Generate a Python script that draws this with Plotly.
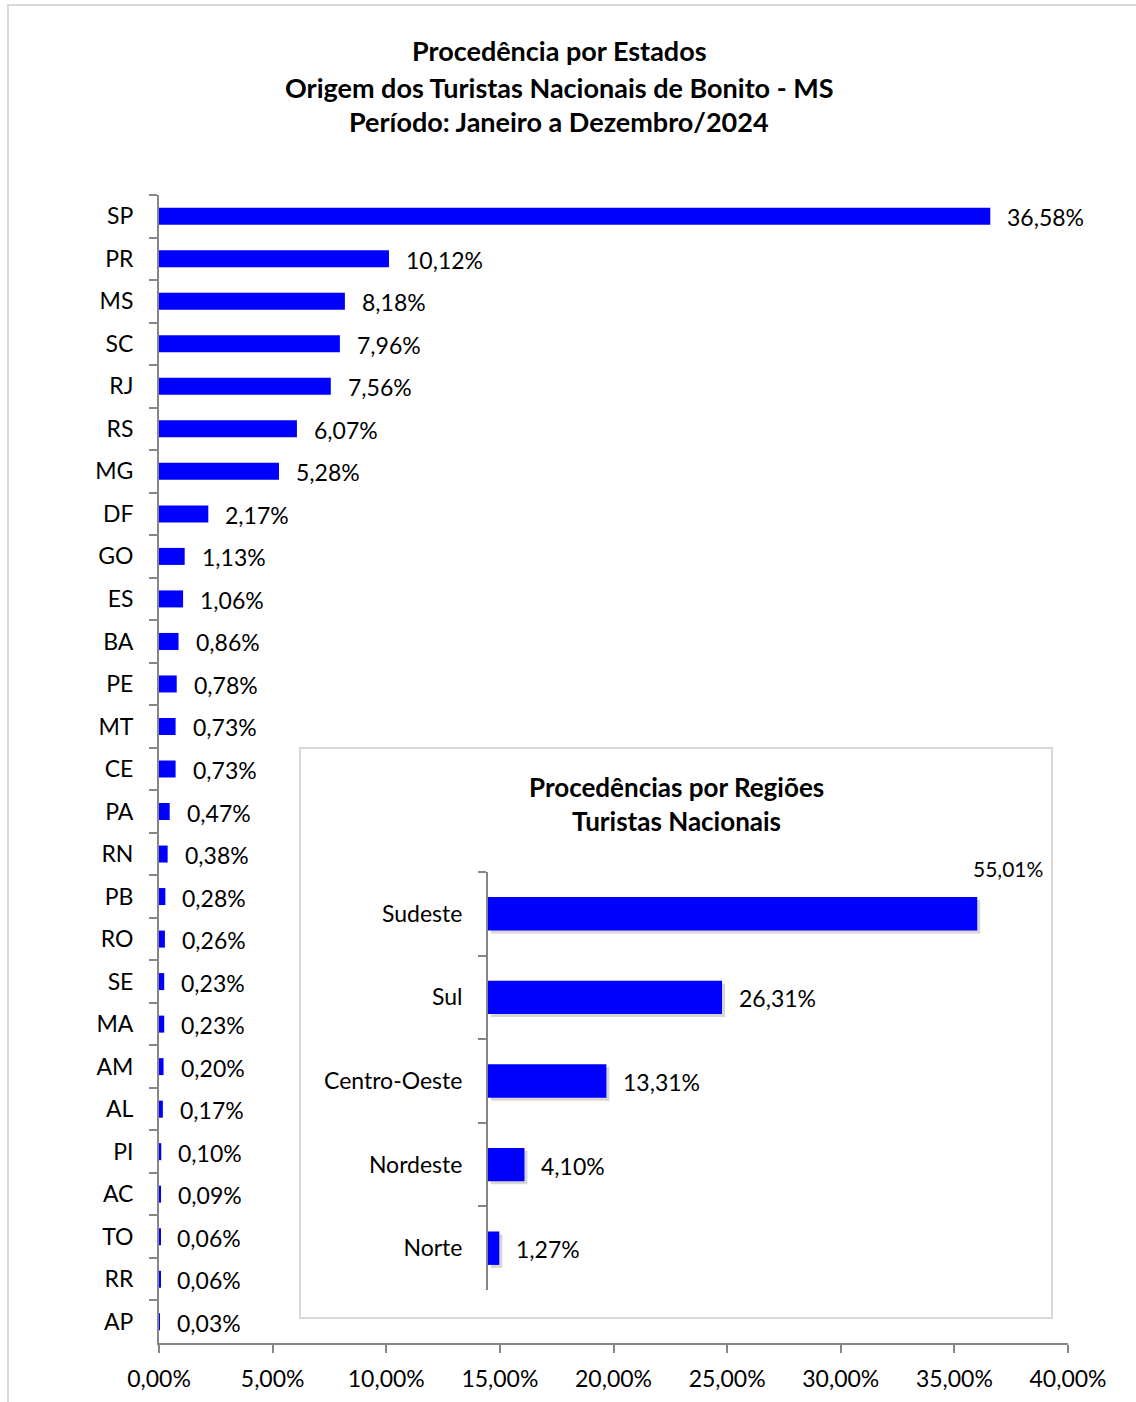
import plotly.graph_objects as go

# ---- data ----
states = ["SP", "PR", "MS", "SC", "RJ", "RS", "MG", "DF", "GO", "ES", "BA", "PE", "MT", "CE",
          "PA", "RN", "PB", "RO", "SE", "MA", "AM", "AL", "PI", "AC", "TO", "RR", "AP"]
state_pct = [36.58, 10.12, 8.18, 7.96, 7.56, 6.07, 5.28, 2.17, 1.13, 1.06, 0.86, 0.78, 0.73, 0.73,
             0.47, 0.38, 0.28, 0.26, 0.23, 0.23, 0.20, 0.17, 0.10, 0.09, 0.06, 0.06, 0.03]
regions = ["Sudeste", "Sul", "Centro-Oeste", "Nordeste", "Norte"]
region_pct = [55.01, 26.31, 13.31, 4.10, 1.27]
x_ticks = [0, 5, 10, 15, 20, 25, 30, 35, 40]
title_lines = ["Procedência por Estados",
               "Origem dos Turistas Nacionais de Bonito - MS",
               "Período: Janeiro a Dezembro/2024"]
inset_title_lines = ["Procedências por Regiões", "Turistas Nacionais"]

# ---- geometry helpers (pixel -> paper) ----
W, H = 1136, 1402
L, R, T, B = 159, 1068, 195, 1343
PW, PH = R - L, B - T
def px(x): return (x - L) / PW
def py(y): return (B - y) / PH

FONT = "Lato, 'Open Sans', sans-serif"
BLUE = "#0000FF"
AX = "#868686"

def fmt(v):
    return f"{v:.2f}".replace(".", ",") + "%"

fig = go.Figure()

fig.add_trace(go.Bar(
    x=state_pct, y=states, orientation="h", marker=dict(color=BLUE, line=dict(width=0)),
    width=0.4, xaxis="x", yaxis="y", hoverinfo="skip"))

# inset scale
inset_x0_px, inset_x1_px = 488, 1040
inset_scale = 8.894  # px per %
inset_range = (inset_x1_px - inset_x0_px) / inset_scale

# shadow for inset bars (drawn first, on subplot x2/y2)
fig.add_trace(go.Bar(
    x=region_pct, y=regions, orientation="h", marker=dict(color="rgba(0,0,0,0.16)", line=dict(width=0)),
    width=0.4, xaxis="x2", yaxis="y2", hoverinfo="skip"))
# inset bars (subplot x3/y3, on top)
fig.add_trace(go.Bar(
    x=region_pct, y=regions, orientation="h", marker=dict(color=BLUE, line=dict(width=0)),
    width=0.4, xaxis="x3", yaxis="y3", hoverinfo="skip"))

annotations = []
for s, v in zip(states, state_pct):
    annotations.append(dict(x=v, y=s, xref="x", yref="y", text=fmt(v), showarrow=False,
                            xanchor="left", yanchor="middle", xshift=15, yshift=-1,
                            font=dict(family=FONT, size=23, color="black")))
for i, (r_, v) in enumerate(zip(regions, region_pct)):
    if i == 0:
        annotations.append(dict(x=v, y=r_, xref="x3", yref="y3", text=fmt(v), showarrow=False,
                                xanchor="left", yanchor="middle", xshift=-6, yshift=45,
                                font=dict(family=FONT, size=21, color="black")))
    else:
        annotations.append(dict(x=v, y=r_, xref="x3", yref="y3", text=fmt(v), showarrow=False,
                                xanchor="left", yanchor="middle", xshift=15, yshift=-1,
                                font=dict(family=FONT, size=23, color="black")))

for ypix, t in zip([51, 87, 122], title_lines):
    annotations.append(dict(x=px(559), y=py(ypix), xref="paper", yref="paper", text=f"<b>{t}</b>",
                            showarrow=False, xanchor="center", yanchor="middle",
                            font=dict(family=FONT, size=27, color="black")))
for ypix, t in zip([787, 821], inset_title_lines):
    annotations.append(dict(x=px(676), y=py(ypix), xref="paper", yref="paper", text=f"<b>{t}</b>",
                            showarrow=False, xanchor="center", yanchor="middle",
                            font=dict(family=FONT, size=26, color="black")))

shapes = [
    # outer frame
    dict(type="line", xref="paper", yref="paper", x0=px(7), x1=px(W + 5), y0=py(5), y1=py(5),
         line=dict(color="#d9d9d9", width=2), layer="below"),
    dict(type="line", xref="paper", yref="paper", x0=px(8), x1=px(8), y0=py(5), y1=py(H + 5),
         line=dict(color="#d9d9d9", width=2), layer="below"),
    # inset box
    dict(type="rect", xref="paper", yref="paper", x0=px(300), x1=px(1052), y0=py(1318), y1=py(748),
         line=dict(color="#d9d9d9", width=2), fillcolor="white", layer="below"),
]

inset_dom_y = [py(1290), py(872)]
fig.update_layout(
    width=W, height=H,
    margin=dict(l=L, r=W - R, t=T, b=H - B, autoexpand=False),
    paper_bgcolor="white", plot_bgcolor="rgba(0,0,0,0)",
    separators=",.",
    showlegend=False,
    barmode="overlay",
    font=dict(family=FONT, size=23, color="black"),
    xaxis=dict(domain=[0, 1], range=[0, 40], tickvals=x_ticks, ticktext=[fmt(v) for v in x_ticks],
               showgrid=False, zeroline=False, showline=True, linecolor=AX, linewidth=2,
               ticks="outside", ticklen=8, tickwidth=2, tickcolor=AX, ticklabelstandoff=6,
               tickfont=dict(family=FONT, size=23, color="black"), anchor="y", fixedrange=True),
    yaxis=dict(domain=[0, 1], categoryorder="array", categoryarray=states, autorange="reversed",
               type="category", showgrid=False, zeroline=False, showline=True, linecolor=AX,
               linewidth=2, ticks="outside", ticklen=8, tickwidth=2, tickcolor=AX,
               tickson="boundaries", ticklabelstandoff=19,
               tickfont=dict(family=FONT, size=23, color="black"), anchor="x", fixedrange=True),
    # shadow subplot (offset 3px right/down)
    xaxis2=dict(domain=[px(inset_x0_px + 3), px(inset_x1_px + 3)], range=[0, inset_range],
                visible=False, anchor="y2", fixedrange=True),
    yaxis2=dict(domain=[py(1290 + 3), py(872 + 3)], categoryorder="array", categoryarray=regions,
                autorange="reversed", type="category", visible=False, anchor="x2", fixedrange=True),
    # visible inset subplot
    xaxis3=dict(domain=[px(inset_x0_px), px(inset_x1_px)], range=[0, inset_range], visible=False,
                anchor="y3", fixedrange=True),
    yaxis3=dict(domain=inset_dom_y, categoryorder="array", categoryarray=regions, autorange="reversed",
                type="category", showgrid=False, zeroline=False, showline=True, linecolor=AX,
                linewidth=2, ticks="outside", ticklen=8, tickwidth=2, tickcolor=AX,
                tickson="boundaries", ticklabelstandoff=19,
                tickfont=dict(family=FONT, size=23, color="black"), anchor="x3", fixedrange=True),
    annotations=annotations,
    shapes=shapes,
)

fig.write_html("out.html", config={"displayModeBar": False},
               post_script="document.body.style.margin='0';document.body.style.padding='0';")
